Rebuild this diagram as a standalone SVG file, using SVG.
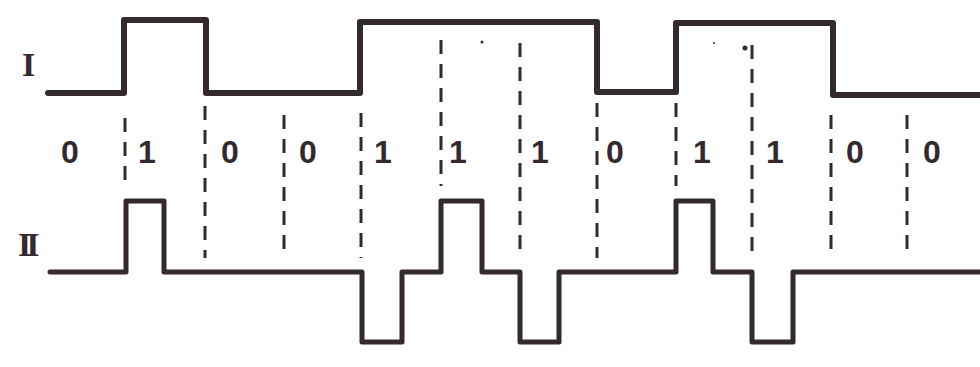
<svg xmlns="http://www.w3.org/2000/svg" width="980" height="367" viewBox="0 0 980 367">
<style>
.wave{fill:none;stroke:#34292f;stroke-width:5;stroke-linejoin:round;stroke-linecap:round}
.w1{stroke-width:6}
.dash{stroke:#34292f;stroke-width:3;stroke-dasharray:14 10;fill:none}
.bit{font-family:"Liberation Sans",Arial,sans-serif;font-weight:bold;font-size:32px;fill:#34292f}
.lab{font-family:"Liberation Serif","Times New Roman",serif;font-weight:bold;font-size:34px;fill:#34292f}
</style>
<rect width="980" height="367" fill="#ffffff"/>
<g id="connectors">
<line class="dash" x1="125" y1="118" x2="125" y2="188"/>
<line class="dash" x1="205" y1="106" x2="205" y2="258"/>
<line class="dash" x1="284" y1="115" x2="284" y2="258"/>
<line class="dash" x1="361" y1="113" x2="361" y2="258"/>
<line class="dash" x1="441" y1="40" x2="441" y2="186"/>
<line class="dash" x1="520" y1="43" x2="520" y2="258"/>
<line class="dash" x1="597" y1="103" x2="597" y2="258"/>
<line class="dash" x1="676" y1="103" x2="676" y2="186"/>
<line class="dash" x1="752" y1="45" x2="752" y2="258"/>
<line class="dash" x1="831" y1="115" x2="831" y2="258"/>
<line class="dash" x1="907" y1="115" x2="907" y2="258"/>
</g>
<g id="waveI">
<path class="wave w1" d="M48,93 H124 V20 H206 V93 H360 V22 H597 V92 H676 V23 H833 V95 H980"/>
<text class="lab" x="22" y="76">I</text>
</g>
<g id="waveII">
<path class="wave" d="M50,272 H126 V201 H164 V272 H362 V342 H402 V272 H441 V201 H482 V272 H520 V342 H559 V272 H676 V201 H713 V272 H752 V342 H793 V272 H980"/>
<text class="lab" x="18" y="256" letter-spacing="-5">II</text>
</g>
<g id="bits">
<text class="bit" x="61" y="163">0</text>
<text class="bit" x="138" y="163">1</text>
<text class="bit" x="221" y="163">0</text>
<text class="bit" x="299" y="163">0</text>
<text class="bit" x="374" y="163">1</text>
<text class="bit" x="449" y="163">1</text>
<text class="bit" x="531" y="163">1</text>
<text class="bit" x="606" y="163">0</text>
<text class="bit" x="693" y="163">1</text>
<text class="bit" x="766" y="163">1</text>
<text class="bit" x="846" y="163">0</text>
<text class="bit" x="923" y="163">0</text>
</g>
<g id="specks" fill="#34292f">
<circle cx="482" cy="42" r="1.5"/>
<circle cx="714" cy="43" r="1"/>
<circle cx="745" cy="48" r="2.5"/>
</g>
</svg>
